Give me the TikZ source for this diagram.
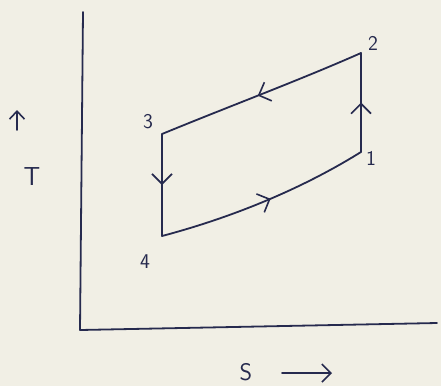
\documentclass[tikz,border=0pt]{standalone}
\usetikzlibrary{arrows.meta,decorations.markings}
\definecolor{paper}{RGB}{241,239,229}
\definecolor{ink}{RGB}{38,42,78}
\tikzset{
  pen/.style={draw=ink,line width=1.8pt,line cap=round,line join=round},
  lbl/.style={text=ink,font=\sffamily\fontsize{21}{21}\selectfont,inner sep=0pt},
  midarrow/.style={postaction={decorate},decoration={markings,
    mark=at position #1 with {\arrow{Straight Barb[length=10pt,width=20pt,line width=1.6pt]}}}}
}
\begin{document}
\begin{tikzpicture}[x=1pt,y=-1pt]
\fill[paper] (0,0) rectangle (441,386);
\useasboundingbox (0,0) rectangle (441,386);
% axes
\coordinate (top) at (83,12);
\coordinate (o) at (80,330);
\coordinate (right) at (437,323);
\draw[pen] (top) -- (o) -- (right);
% cycle corners
\coordinate (p1) at (361,152);
\coordinate (p2) at (361,53);
\coordinate (p3) at (162,134);
\coordinate (p4) at (162,236);
\draw[pen,midarrow=0.5] (p1) -- (p2);
\draw[pen,midarrow=0.52] (p2) .. controls (300,80) and (230,106) .. (p3);
\draw[pen,midarrow=0.5] (p3) -- (p4);
\draw[pen,midarrow=0.53] (p4) .. controls (230,218) and (300,190) .. (p1);
% labels
\node[lbl] (l1) at (371,158) {1};
\node[lbl] (l2) at (373,43) {2};
\node[lbl] (l3) at (148,122) {3};
\node[lbl] (l4) at (145,262) {4};
\node[lbl,font=\sffamily\fontsize{26}{26}\selectfont] (T) at (32,177) {T};
\coordinate (ta) at (17,130);
\coordinate (tb) at (17,110);
\draw[pen,-{Straight Barb[length=8pt,width=15pt,line width=1.6pt]}] (ta) -- (tb);
\node[lbl,font=\sffamily\fontsize{24}{24}\selectfont] (S) at (246,372) {S};
\coordinate (sa) at (282,373);
\coordinate (sb) at (332,373);
\draw[pen,-{Straight Barb[length=9pt,width=18pt,line width=1.6pt]}] (sa) -- (sb);
\end{tikzpicture}
\end{document}
